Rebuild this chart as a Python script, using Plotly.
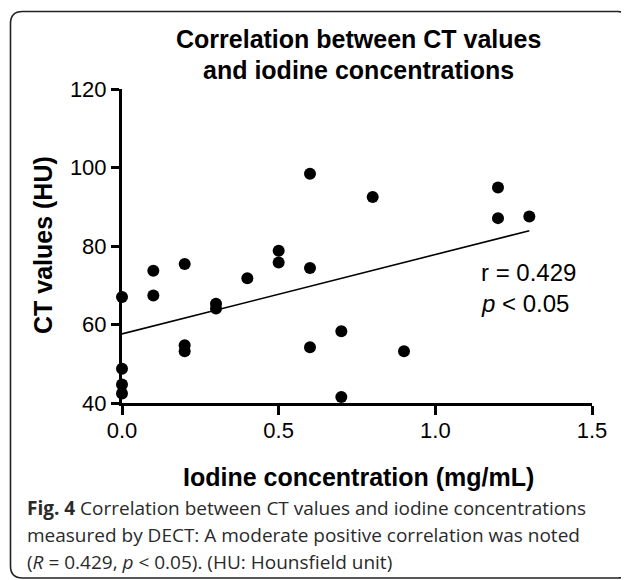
import plotly.graph_objects as go

# Data
iodine_mg_ml = [0.0, 0.0, 0.0, 0.0, 0.1, 0.1, 0.2, 0.2, 0.2, 0.3, 0.3, 0.4,
                0.5, 0.5, 0.6, 0.6, 0.6, 0.7, 0.7, 0.8, 0.9, 1.2, 1.2, 1.3]
ct_values_hu = [67.0, 48.7, 44.7, 42.4, 73.7, 67.4, 75.4, 54.7, 53.2, 65.3, 64.1, 71.8,
                78.8, 75.8, 98.4, 74.4, 54.2, 58.3, 41.5, 92.5, 53.2, 94.9, 87.1, 87.5]
fit_x = [0.0, 1.3]
fit_y = [57.6, 83.9]
x_ticks = [0.0, 0.5, 1.0, 1.5]
x_tick_labels = ["0.0", "0.5", "1.0", "1.5"]
y_ticks = [40, 60, 80, 100, 120]
y_tick_labels = ["40", "60", "80", "100", "120"]

# page body has an 8px margin; size the figure so the page fits the window
OFF = 8
W, H = 629 - OFF, 580 - OFF
PLOT_L, PLOT_R, PLOT_T, PLOT_B = 122, 592, 89, 403   # target positions in window pixels
L = PLOT_L - OFF
T = PLOT_T - OFF
R = W - (PLOT_R - OFF)
B = H - (PLOT_B - OFF)
PW, PH = PLOT_R - PLOT_L, PLOT_B - PLOT_T

def px(x):
    return (x - PLOT_L) / PW

def py(y):
    return (PLOT_B - y) / PH

fig = go.Figure()
fig.add_trace(go.Scatter(x=fit_x, y=fit_y, mode="lines",
                         line=dict(color="black", width=1.6), showlegend=False,
                         hoverinfo="skip"))
fig.add_trace(go.Scatter(x=iodine_mg_ml, y=ct_values_hu, mode="markers",
                         marker=dict(color="black", size=12), cliponaxis=False,
                         showlegend=False))

font_main = "Liberation Sans, Arial, sans-serif"

fig.update_xaxes(range=[0, 1.5], tickvals=x_ticks, ticktext=x_tick_labels,
                 showline=True, linecolor="black", linewidth=3, ticks="outside",
                 ticklen=9, tickwidth=3, tickcolor="black", showgrid=False,
                 ticklabelstandoff=-3,
                 zeroline=False, tickfont=dict(family=font_main, size=22, color="black"))
fig.update_yaxes(range=[40, 120], tickvals=y_ticks, ticktext=y_tick_labels,
                 showline=True, linecolor="black", linewidth=3, ticks="outside",
                 ticklen=8, tickwidth=3, tickcolor="black", showgrid=False,
                 zeroline=False, tickfont=dict(family=font_main, size=22, color="black"))

# rounded frame
x0, y0, x1, y1, r = 10.5, 11.5, 629.5, 578, 12
path = (f"M {px(x0)},{py(y0 + r)} Q {px(x0)},{py(y0)} {px(x0 + r)},{py(y0)} "
        f"L {px(x1 - r)},{py(y0)} Q {px(x1)},{py(y0)} {px(x1)},{py(y0 + r)} "
        f"L {px(x1)},{py(y1 - r)} Q {px(x1)},{py(y1)} {px(x1 - r)},{py(y1)} "
        f"L {px(x0 + r)},{py(y1)} Q {px(x0)},{py(y1)} {px(x0)},{py(y1 - r)} Z")
fig.add_shape(type="path", path=path, xref="paper", yref="paper",
              line=dict(color="#222222", width=1.6), layer="below")

annotations = [
    dict(text="<b>Correlation between CT values</b>", x=px(358), y=py(39),
         font=dict(family=font_main, size=25, color="black")),
    dict(text="<b>and iodine concentrations</b>", x=px(358), y=py(70),
         font=dict(family=font_main, size=25, color="black")),
    dict(text="<b>Iodine concentration (mg/mL)</b>", x=px(358), y=py(477),
         font=dict(family=font_main, size=25, color="black")),
    dict(text="<b>CT values (HU)</b>", x=px(43), y=py(245), textangle=-90,
         font=dict(family=font_main, size=25, color="black")),
    dict(text="r = 0.429", x=px(479), y=py(272), xanchor="left",
         font=dict(family=font_main, size=24, color="black")),
    dict(text="<i>p</i> &lt; 0.05", x=px(479), y=py(303), xanchor="left",
         font=dict(family=font_main, size=24, color="black")),
]
cap_font = dict(family="Open Sans, sans-serif", size=19, color="#2a2a2a")
captions = [
    ("<b>Fig. 4</b> Correlation between CT values and iodine concentrations", 508),
    ("measured by DECT: A moderate positive correlation was noted", 535),
    ("(<i>R</i> = 0.429, <i>p</i> &lt; 0.05). (HU: Hounsfield unit)", 562),
]
for txt, yy in captions:
    annotations.append(dict(text=txt, x=px(25), y=py(yy), xanchor="left", font=cap_font))

for a in annotations:
    a.setdefault("xanchor", "center")
    a.update(xref="paper", yref="paper", yanchor="middle", showarrow=False)
    fig.add_annotation(**a)

fig.update_layout(width=W, height=H, margin=dict(l=L, r=R, t=T, b=B, pad=0),
                  plot_bgcolor="white", paper_bgcolor="white")

fig.write_html("out.html")
